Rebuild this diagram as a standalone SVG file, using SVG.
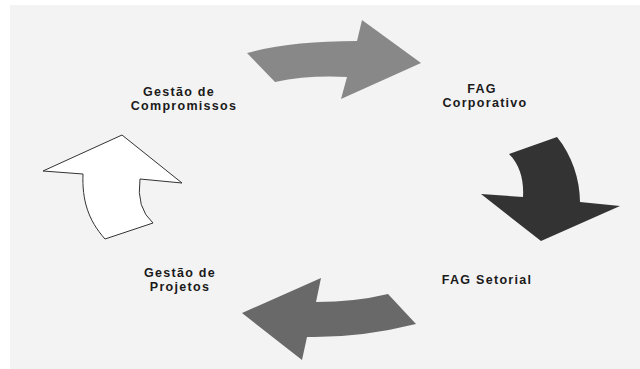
<svg xmlns="http://www.w3.org/2000/svg" width="640" height="369" viewBox="0 0 640 369">
<style>
.lbl{font-family:"Liberation Sans",Arial,sans-serif;font-size:12.5px;font-weight:bold;fill:#1a1a1a;text-anchor:middle;letter-spacing:1.3px}
</style>
<rect x="0" y="0" width="640" height="369" fill="#ffffff"/>
<rect x="10" y="5" width="630" height="364" fill="#f3f3f3"/>
<g id="connectors">
<path id="arrow-top" d="M247,53 Q290,41 357,41 L362,20 L421,63 L341,99 L347,77 Q308,75 275,82 Z" fill="#888888"/>
<path id="arrow-right" d="M509,154 L557,137 C572,155 580,180 580,202 L620,206 L541,241 L481,194 L523,197 C524,180 520,165 509,154 Z" fill="#333333"/>
<path id="arrow-bottom" d="M388,294 L416,324 Q360,338 307,337 L302,360 L242,313 L321,278 L316,302 Q355,302 388,294 Z" fill="#696969"/>
<path id="arrow-left" d="M43,171 L122,135 L182,183 L140,179 Q136,208 153,223 L105,239 C88,220 82,200 83,174 Z" fill="#ffffff" stroke="#333333" stroke-width="1"/>
</g>
<g id="gestao-compromissos">
<text class="lbl" x="179" y="96">Gestão de</text>
<text class="lbl" x="184" y="110">Compromissos</text>
</g>
<g id="fag-corporativo">
<text class="lbl" x="482" y="93">FAG</text>
<text class="lbl" x="485" y="107">Corporativo</text>
</g>
<g id="fag-setorial">
<text class="lbl" x="487" y="284">FAG Setorial</text>
</g>
<g id="gestao-projetos">
<text class="lbl" x="180" y="277">Gestão de</text>
<text class="lbl" x="180" y="291">Projetos</text>
</g>
</svg>
